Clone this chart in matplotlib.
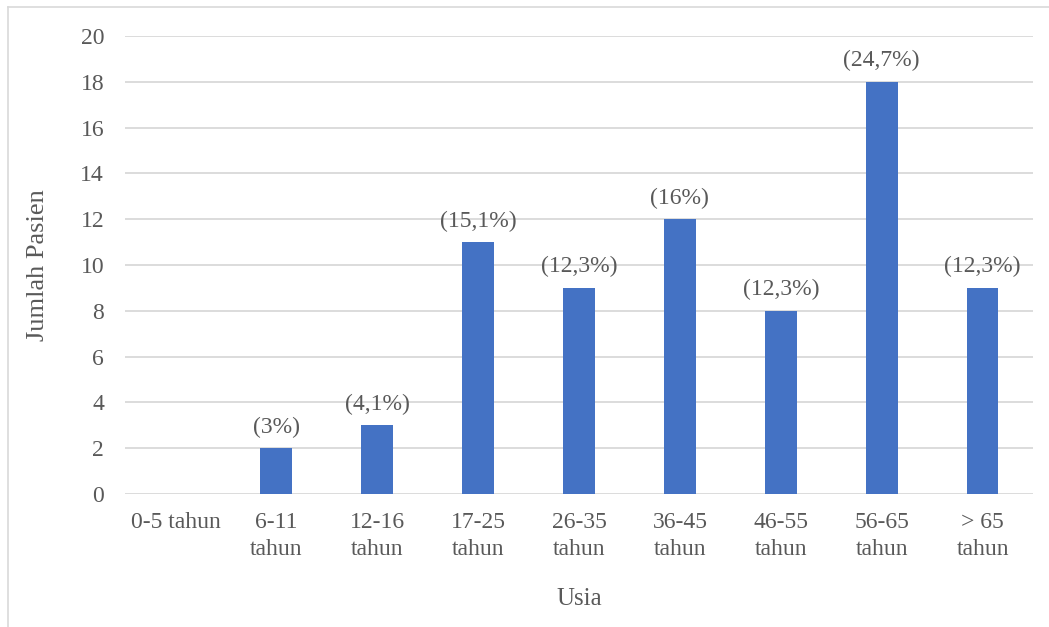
import matplotlib.pyplot as plt
from matplotlib.lines import Line2D
import numpy as np

plt.rcParams['font.family'] = ['Liberation Serif', 'DejaVu Serif']

# Data
kelompok_usia = ['0-5 tahun', '6-11\ntahun', '12-16\ntahun', '17-25\ntahun', '26-35\ntahun',
                 '36-45\ntahun', '46-55\ntahun', '56-65\ntahun', '> 65\ntahun']
jumlah_pasien = [0, 2, 3, 11, 9, 12, 8, 18, 9]
persen_label = ['', '(3%)', '(4,1%)', '(15,1%)', '(12,3%)', '(16%)', '(12,3%)', '(24,7%)', '(12,3%)']

teks = '#595959'
fs = 17

fig = plt.figure(figsize=(10.49, 6.27), dpi=100)
ax = fig.add_axes([125 / 1049, 1 - 494 / 627, 908 / 1049, 458 / 627])

x = np.arange(len(kelompok_usia))
bars = ax.bar(x, jumlah_pasien, width=0.315, color='#4472C4', zorder=3)

for b, lbl in zip(bars, persen_label):
    if lbl:
        ax.annotate(lbl, (b.get_x() + b.get_width() / 2, b.get_height()),
                    xytext=(0, 7.5), textcoords='offset points',
                    ha='center', va='bottom', fontsize=fs, color=teks)

ax.set_xlim(-0.5, len(x) - 0.5)
ax.set_ylim(0, 20)
ax.set_yticks(range(0, 21, 2))
ax.set_xticks(x)
ax.set_xticklabels(kelompok_usia, linespacing=1.4)
ax.tick_params(axis='both', length=0, labelsize=fs, labelcolor=teks)
ax.tick_params(axis='y', pad=15)
ax.tick_params(axis='x', pad=13)

ax.grid(axis='y', color='#d9d9d9', linewidth=1.3, zorder=0)
for s in ax.spines.values():
    s.set_visible(False)

ax.set_ylabel('Jumlah Pasien', fontsize=19, color=teks)
ax.yaxis.set_label_coords(-0.084, 0.5)
ax.set_xlabel('Usia', fontsize=18, color=teks)
ax.xaxis.set_label_coords(0.5, -0.205)

# thin frame along top and left of the figure
fig.add_artist(Line2D([8 / 1049, 1], [1 - 7 / 627, 1 - 7 / 627], color='#d9d9d9', linewidth=1.2))
fig.add_artist(Line2D([8 / 1049, 8 / 1049], [0, 1 - 7 / 627], color='#d9d9d9', linewidth=1.2))

fig.savefig('out.png', dpi=100)
